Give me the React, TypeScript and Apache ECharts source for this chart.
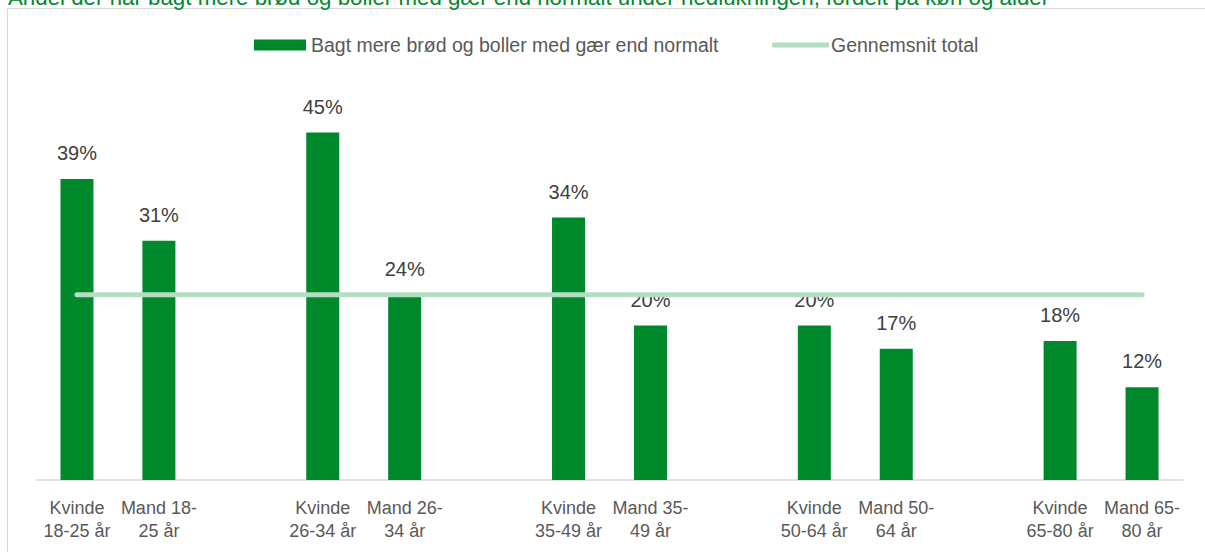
import React, { useEffect, useRef } from "react";
import * as echarts from "echarts";

const titleText =
  "Andel der har bagt mere brød og boller med gær end normalt under nedlukningen, fordelt på køn og alder";

const categories = [
  "Kvinde\n18-25 år",
  "Mand 18-\n25 år",
  "",
  "Kvinde\n26-34 år",
  "Mand 26-\n34 år",
  "",
  "Kvinde\n35-49 år",
  "Mand 35-\n49 år",
  "",
  "Kvinde\n50-64 år",
  "Mand 50-\n64 år",
  "",
  "Kvinde\n65-80 år",
  "Mand 65-\n80 år",
];

const barName = "Bagt mere brød og boller med gær end normalt";
const barValues = [39, 31, null, 45, 24, null, 34, 20, null, 20, 17, null, 18, 12];

const lineName = "Gennemsnit total";
const lineValues = [24, 24, 24, 24, 24, 24, 24, 24, 24, 24, 24, 24, 24, 24];

const FONT = "Liberation Sans";
const GREEN = "#00892C";
const LIGHT = "#B3DEC1";

export default function App() {
  const ref = useRef<HTMLDivElement>(null);
  useEffect(() => {
    const chart = echarts.init(ref.current!, null, { renderer: "svg" });
    chart.setOption({
      animation: false,
      backgroundColor: "#ffffff",
      textStyle: { fontFamily: FONT },
      graphic: [
        {
          type: "rect",
          shape: { x: 7.5, y: 8.5, width: 1400, height: 700 },
          style: { fill: "none", stroke: "#D9D9D9", lineWidth: 1 },
          silent: true,
        },
        {
          type: "text",
          x: 8,
          y: -3,
          style: {
            text: titleText,
            fill: GREEN,
            font: `22.3px "${FONT}"`,
            verticalAlign: "middle",
          },
        },
      ],
      legend: [
        {
          data: [{ name: barName, icon: "rect" }],
          left: 249,
          top: 30,
          itemWidth: 52,
          itemHeight: 11,
          itemGap: 5,
          textStyle: { color: "#595959", fontSize: 19.5, fontFamily: FONT },
        },
        {
          data: [{ name: lineName, icon: "roundRect" }],
          left: 767,
          top: 30,
          itemWidth: 57,
          itemHeight: 5,
          textStyle: { color: "#595959", fontSize: 19.5, fontFamily: FONT, padding: [0, 0, 0, -3] },
        },
      ],
      grid: { left: 36, right: 22, top: 94, bottom: 72, containLabel: false },
      xAxis: {
        type: "category",
        data: categories,
        axisLine: { lineStyle: { color: "#D9D9D9", width: 1.5 } },
        axisTick: { show: false },
        axisLabel: {
          interval: 0,
          color: "#595959",
          fontSize: 18,
          lineHeight: 23,
          margin: 16,
          fontFamily: FONT,
        },
      },
      yAxis: {
        type: "value",
        min: 0,
        max: 50,
        show: false,
        splitLine: { show: false },
      },
      series: [
        {
          name: barName,
          type: "bar",
          data: barValues,
          barWidth: 33,
          itemStyle: { color: GREEN },
          label: {
            show: true,
            position: "top",
            distance: 16,
            formatter: "{c}%",
            color: "#404040",
            fontSize: 20,
            fontFamily: FONT,
          },
          z: 2,
        },
        {
          name: lineName,
          type: "line",
          data: lineValues,
          symbol: "none",
          showSymbol: false,
          lineStyle: { color: LIGHT, width: 5, cap: "round" },
          itemStyle: { color: LIGHT },
          z: 3,
        },
      ],
    });
    return () => chart.dispose();
  }, []);
  return (
    <div
      ref={ref}
      style={{ width: 1205, height: 552, margin: -8, position: "absolute", left: 8, top: 8 }}
    />
  );
}
